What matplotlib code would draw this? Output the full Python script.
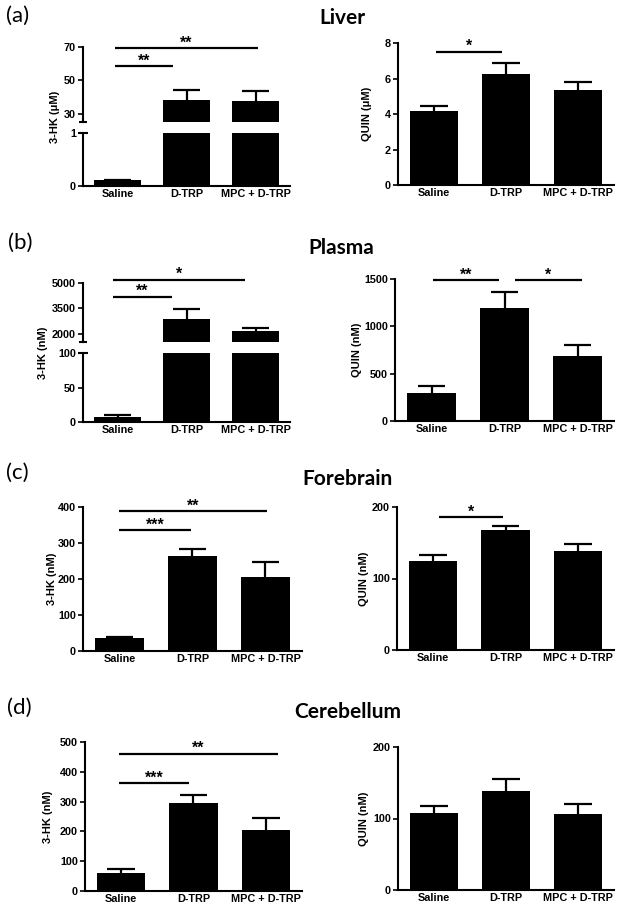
import matplotlib
matplotlib.use("Agg")
import matplotlib.pyplot as plt
import numpy as np

W, H = 624, 914
groups = ["Saline", "D-TRP", "MPC + D-TRP"]

# (a) Liver
liver_hk_mean = [0.11, 37.9, 37.3]
liver_hk_err = [0.01, 6.1, 6.2]
liver_quin_mean = [4.16, 6.24, 5.34]
liver_quin_err = [0.28, 0.65, 0.47]
# (b) Plasma
plasma_hk_mean = [7.0, 2860, 2160]
plasma_hk_err = [3.5, 590, 160]
plasma_quin_mean = [296, 1196, 685]
plasma_quin_err = [71, 163, 123]
# (c) Forebrain
fore_hk_mean = [37, 264, 205]
fore_hk_err = [3, 19, 42]
fore_quin_mean = [124.7, 168.4, 138.6]
fore_quin_err = [8.0, 4.6, 9.4]
# (d) Cerebellum
cere_hk_mean = [61.8, 296.6, 204.5]
cere_hk_err = [12.4, 25.8, 39.3]
cere_quin_mean = [107, 138.6, 105.6]
cere_quin_err = [10.2, 16.3, 14.4]

# significance bars: (x start, x end, height, stars)
sig_liver_hk = [(-0.04, 0.80, 58.5, "**"), (-0.04, 2.04, 69.4, "**")]
sig_liver_quin = [(0.03, 0.94, 7.5, "*")]
sig_plasma_hk = [(-0.07, 0.79, 4180, "**"), (-0.07, 1.85, 5180, "*")]
sig_plasma_quin = [(0.02, 0.92, 1485, "**"), (1.14, 2.06, 1485, "*")]
sig_fore_hk = [(-0.01, 0.98, 335, "***"), (-0.01, 2.02, 388, "**")]
sig_fore_quin = [(0.08, 0.97, 186, "*")]
sig_cere_hk = [(-0.03, 0.94, 362, "***"), (-0.03, 2.17, 461, "**")]

TICK_FONT = {"family": "Liberation Sans", "weight": "bold", "size": 7.8}
TITLE_FONT = "Lato"

fig = plt.figure(figsize=(W / 100, H / 100), dpi=100)


def rect(x0, top, x1, bottom):
    return [x0 / W, 1 - bottom / H, (x1 - x0) / W, (bottom - top) / H]


def style(ax, xaxis=True):
    for s in ("top", "right"):
        ax.spines[s].set_visible(False)
    ax.spines["left"].set_linewidth(1.5)
    ax.spines["bottom"].set_linewidth(1.5)
    ax.tick_params(axis="y", length=3.5, width=1.2, pad=1.5)
    ax.tick_params(axis="x", length=0, pad=2.5)
    ax.set_xlim(-0.5, 2.5)
    if xaxis:
        ax.set_xticks(range(3))
        ax.set_xticklabels(groups, fontdict=TICK_FONT)
    else:
        ax.spines["bottom"].set_visible(False)
        ax.set_xticks([])


def bars(ax, means, errs):
    x = np.arange(len(means))
    m = np.array(means)
    e = np.array(errs)
    ax.bar(x, m, width=0.67, color="black", zorder=2)
    ax.vlines(x, m, m + e, color="black", lw=1.6, zorder=3)
    ax.hlines(m + e, x - 0.19, x + 0.19, color="black", lw=1.6, zorder=3)


def sigs(ax, items):
    for x0, x1, y, txt in items:
        ax.plot([x0, x1], [y, y], color="black", lw=1.6, clip_on=False,
                solid_capstyle="butt")
        ax.annotate(txt, ((x0 + x1) / 2, y), xytext=(0, 0.5),
                    textcoords="offset points", ha="center", va="baseline",
                    fontfamily="Liberation Sans", fontweight="bold",
                    fontsize=11.5, annotation_clip=False)


def ticks(ax, vals):
    ax.set_yticks(vals)
    ax.set_yticklabels([str(v) for v in vals], fontdict=TICK_FONT)


def simple(box, means, errs, ylim, yt, sig, label, lx):
    ax = fig.add_axes(rect(*box))
    bars(ax, means, errs)
    ax.set_ylim(*ylim)
    style(ax)
    ticks(ax, yt)
    if sig:
        sigs(ax, sig)
    fig.text(lx / W, 1 - (box[1] + box[3]) / 2 / H, label, rotation=90,
             ha="center", va="center", fontfamily="Liberation Sans",
             fontweight="bold", fontsize=8)
    return ax


def broken(x0, x1, up, low, means, errs, ylim_up, ylim_low, yt_up, yt_low,
           sig, label, lx):
    axu = fig.add_axes(rect(x0, up[0], x1, up[1]))
    axl = fig.add_axes(rect(x0, low[0], x1, low[1]))
    for ax, yl, yt, xa in ((axu, ylim_up, yt_up, False),
                           (axl, ylim_low, yt_low, True)):
        bars(ax, means, errs)
        ax.set_ylim(*yl)
        style(ax, xaxis=xa)
        ticks(ax, yt)
    axu.plot([0], [0], marker="_", markersize=6, mew=1.5, color="black",
             transform=axu.transAxes, clip_on=False)
    axl.plot([0], [1], marker="_", markersize=7, mew=1.5, color="black",
             transform=axl.transAxes, clip_on=False)
    sigs(axu, sig)
    fig.text(lx / W, 1 - (up[0] + low[1]) / 2 / H, label, rotation=90,
             ha="center", va="center", fontfamily="Liberation Sans",
             fontweight="bold", fontsize=8)


# (a) Liver
broken(83, 290, (47, 122), (133, 186), liver_hk_mean, liver_hk_err,
       (25, 70), (0, 1), [30, 50, 70], [0, 1], sig_liver_hk,
       "3-HK (\u03bcM)", 55)
simple((398, 43, 614, 185), liver_quin_mean, liver_quin_err, (0, 8),
       [0, 2, 4, 6, 8], sig_liver_quin, "QUIN (\u03bcM)", 367)

# (b) Plasma
broken(83, 290, (283, 342), (353, 422), plasma_hk_mean, plasma_hk_err,
       (1500, 5000), (0, 100), [2000, 3500, 5000], [0, 50, 100],
       sig_plasma_hk, "3-HK (nM)", 43)
simple((395, 279, 614, 421), plasma_quin_mean, plasma_quin_err, (0, 1500),
       [0, 500, 1000, 1500], sig_plasma_quin, "QUIN (nM)", 357)

# (c) Forebrain
simple((83, 507, 302, 651), fore_hk_mean, fore_hk_err, (0, 400),
       [0, 100, 200, 300, 400], sig_fore_hk, "3-HK (nM)", 52)
simple((397, 507, 614, 650), fore_quin_mean, fore_quin_err, (0, 200),
       [0, 100, 200], sig_fore_quin, "QUIN (nM)", 364)

# (d) Cerebellum
simple((85, 742, 302, 891), cere_hk_mean, cere_hk_err, (0, 500),
       [0, 100, 200, 300, 400, 500], sig_cere_hk, "3-HK (nM)", 48)
simple((398, 747, 614, 890), cere_quin_mean, cere_quin_err, (0, 200),
       [0, 100, 200], None, "QUIN (nM)", 364)

titles = [("Liver", 342, 18), ("Plasma", 341, 248),
          ("Forebrain", 347, 479), ("Cerebellum", 348, 712)]
for t, x, y in titles:
    fig.text(x / W, 1 - y / H, t, ha="center", va="center",
             fontfamily=TITLE_FONT, fontweight="bold", fontsize=15)

letters = [("(a)", 18, 16), ("(b)", 20, 243), ("(c)", 17, 473), ("(d)", 19, 708)]
for t, x, y in letters:
    fig.text(x / W, 1 - y / H, t, ha="center", va="center",
             fontfamily=TITLE_FONT, fontsize=16)

fig.savefig("out.png", dpi=100)
